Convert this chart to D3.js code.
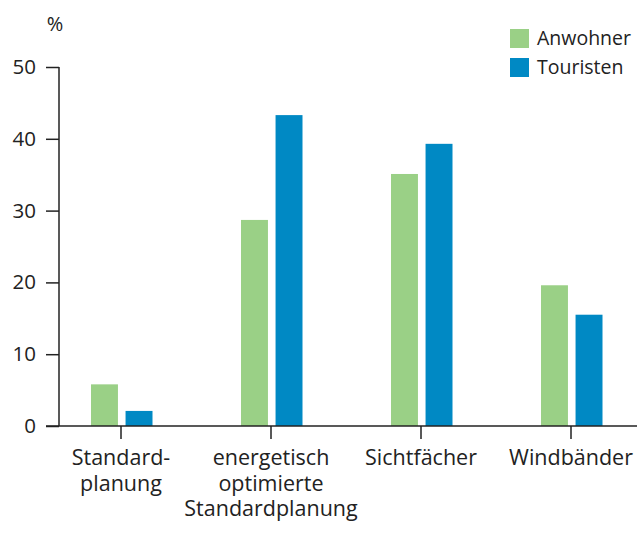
<!DOCTYPE html>
<html>
<head>
<meta charset="utf-8">
<script src="https://cdn.jsdelivr.net/npm/d3@7"></script>
<style>
  body { margin: 0; background: #fff; }
  text { font-family: "Open Sans", sans-serif; fill: #222; }
</style>
</head>
<body>
<svg width="643" height="541"></svg>
<script>
let svg = d3.select("svg");

let categories = [
    ["Standard-", "planung"],
    ["energetisch", "optimierte", "Standardplanung"],
    ["Sichtfächer"],
    ["Windbänder"]
];
let seriesNames = ["Anwohner", "Touristen"];
let anwohner = [5.8, 28.7, 35.1, 19.6];
let touristen = [2.1, 43.3, 39.3, 15.5];
let yTicks = [0, 10, 20, 30, 40, 50];

let colors = ["#9ad086", "#0089c4"];

let keys = categories.map((c, i) => "c" + i);

let x = d3.scaleBand().domain(keys).range([46, 646]);
let xs = d3.scaleBand().domain(seriesNames).range([-30, 31.5]).paddingInner(0.22);
let y = d3.scaleLinear().domain([0, 50]).range([426, 67]);

let values = [anwohner, touristen];

// bars
seriesNames.forEach((s, si) => {
    svg.append("g").selectAll("rect")
        .data(values[si])
        .join("rect")
        .attr("x", (d, i) => x(keys[i]) + x.bandwidth() / 2 + xs(s))
        .attr("y", d => y(d))
        .attr("width", xs.bandwidth())
        .attr("height", d => y(0) - y(d))
        .attr("fill", colors[si]);
});

// y axis
let yAxis = svg.append("g")
    .attr("transform", "translate(59,0)")
    .call(d3.axisLeft(y).tickValues(yTicks).tickSize(13).tickPadding(10));
yAxis.select(".domain").attr("d", "M0," + y(50) + "V" + y(0));
yAxis.selectAll("line, path").attr("stroke", "#222").attr("stroke-width", 1.5);
yAxis.selectAll("text").style("font-size", "20.5px").attr("fill", "#222")
    .attr("font-family", "Open Sans, sans-serif");

// x axis
let xAxis = svg.append("g")
    .attr("transform", "translate(0," + y(0) + ")")
    .call(d3.axisBottom(x).tickSize(13).tickFormat(""));
xAxis.select(".domain").attr("d", "M46,0H637");
xAxis.selectAll("line, path").attr("stroke", "#222").attr("stroke-width", 1.5);

// x labels
categories.forEach((lines, i) => {
    let t = svg.append("text")
        .attr("text-anchor", "middle")
        .style("font-size", "21.5px");
    lines.forEach((l, j) => {
        t.append("tspan")
            .attr("x", x(keys[i]) + x.bandwidth() / 2)
            .attr("y", 465 + j * 25.5)
            .text(l);
    });
});

// unit
svg.append("text")
    .attr("x", 55)
    .attr("y", 31)
    .attr("text-anchor", "middle")
    .style("font-size", "20px")
    .text("%");

// legend
seriesNames.forEach((s, i) => {
    svg.append("rect")
        .attr("x", 510)
        .attr("y", 29 + i * 29)
        .attr("width", 19)
        .attr("height", 19)
        .attr("fill", colors[i]);
    svg.append("text")
        .attr("x", 537)
        .attr("y", 45 + i * 29)
        .style("font-size", "19.5px")
        .text(s);
});
</script>
</body>
</html>
